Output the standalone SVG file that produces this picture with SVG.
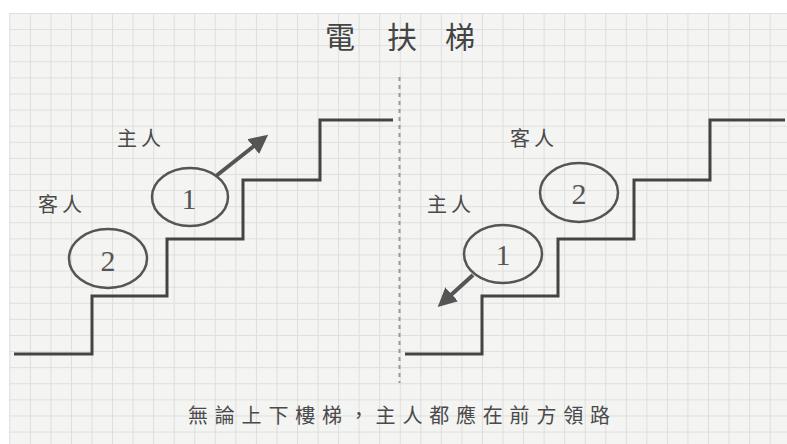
<svg xmlns="http://www.w3.org/2000/svg" width="787" height="444" viewBox="0 0 787 444">
  <defs>
    <pattern id="grid" patternUnits="userSpaceOnUse" x="9.3" y="13" width="20.55" height="16.1">
      <rect width="20.55" height="16.1" fill="#f4f4f2"/>
      <path d="M0.5,0 V16.1 M0,0.5 H20.55" stroke="#dedede" stroke-width="1" fill="none"/>
    </pattern>
    <marker id="ah" markerUnits="userSpaceOnUse" markerWidth="22" markerHeight="22" viewBox="0 -11 22 22" refX="1" refY="0" orient="auto">
      <path d="M0,-9.5 L19,0 L0,9.5 Z" fill="#555"/>
    </marker>
    <style>
      .stair { fill: none; stroke: #444; stroke-width: 3; stroke-linejoin: miter; }
      .oval { fill: none; stroke: #555; stroke-width: 2.5; }
      .num { font-family: "Liberation Serif", serif; font-size: 30px; fill: #555; text-anchor: middle; }
      .lbl { font-family: "Noto Sans CJK TC", "Noto Sans CJK SC", sans-serif; font-size: 20px; fill: #4a4a4a; letter-spacing: 4px; }
      .title { font-family: "Noto Sans CJK TC", "Noto Sans CJK SC", sans-serif; font-size: 30px; fill: #444; }
      .cap { font-family: "Noto Sans CJK TC", "Noto Sans CJK SC", sans-serif; font-size: 20px; fill: #4a4a4a; letter-spacing: 6.8px; }
      .arrow { stroke: #555; stroke-width: 4; fill: none; marker-end: url(#ah); }
    </style>
  </defs>

  <rect x="0" y="0" width="787" height="444" fill="#ffffff"/>
  <rect x="9" y="13" width="778" height="431" fill="url(#grid)"/>

  <g id="title">
    <text class="title" x="325 355 387 417 445" y="48">電 扶 梯</text>
  </g>

  <line id="divider" x1="399.5" y1="77" x2="399.5" y2="383" stroke="#9a9a9a" stroke-width="2" stroke-dasharray="4 4"/>

  <g id="stairs-left">
    <path class="stair" d="M14,354 H92 V296 H167 V239 H243 V180 H320 V120 H393"/>
  </g>
  <g id="stairs-right">
    <path class="stair" d="M405,354 H482 V296 H558 V239 H634 V180 H710 V120 H785"/>
  </g>

  <g id="label-host-left"><text class="lbl" x="117" y="146">主人</text></g>
  <g id="label-guest-left"><text class="lbl" x="38" y="212">客人</text></g>
  <g id="label-guest-right"><text class="lbl" x="510" y="146">客人</text></g>
  <g id="label-host-right"><text class="lbl" x="427" y="212">主人</text></g>

  <g id="node-left-1">
    <ellipse class="oval" cx="190" cy="197" rx="38" ry="29"/>
    <text class="num" x="189" y="209">1</text>
  </g>
  <g id="node-left-2">
    <ellipse class="oval" cx="108" cy="258.5" rx="39" ry="29.5"/>
    <text class="num" x="108" y="271">2</text>
  </g>
  <g id="node-right-2">
    <ellipse class="oval" cx="579" cy="192.5" rx="39" ry="29.5"/>
    <text class="num" x="579" y="204">2</text>
  </g>
  <g id="node-right-1">
    <ellipse class="oval" cx="503" cy="254" rx="39" ry="29"/>
    <text class="num" x="503" y="265">1</text>
  </g>

  <g id="connectors">
    <line class="arrow" x1="216" y1="176" x2="254" y2="146"/>
    <line class="arrow" x1="473" y1="275" x2="451" y2="295"/>
  </g>

  <g id="caption">
    <text class="cap" x="188" y="423">無論上下樓梯，主人都應在前方領路</text>
  </g>
</svg>
